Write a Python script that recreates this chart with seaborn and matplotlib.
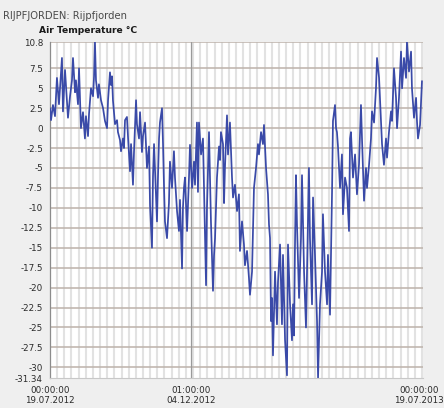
import matplotlib
matplotlib.use("Agg")
import matplotlib.pyplot as plt
import matplotlib.transforms as mtransforms
import numpy as np
import pandas as pd
import seaborn as sns

# ---- data ----
start_time = "2012-07-19 00:00:00"
end_time = "2013-07-19 00:00:00"
day_offsets = [
    0, 1.0, 2.9, 4.9, 6.8, 8.8, 10.8, 11.7, 12.7, 14.7, 16.6, 17.6, 19.6, 21.5, 22.5,
    24.5, 25.4, 27.4, 28.4, 29.4, 30.3, 32.3, 34.2, 35.2, 37.2, 38.2, 40.1, 42.1, 43.1,
    44.0, 45.0, 47.0, 47.9, 49.9, 51.9, 53.8, 55.8, 56.8, 58.7, 59.7, 60.7, 61.6, 63.6,
    65.6, 66.5, 68.5, 69.5, 71.4,
    72.4, 73.4, 75.3, 76.3, 78.3, 79.3, 81.2, 82.2, 84.2, 85.1, 87.1, 88.1, 90.0, 91.0,
    93.0, 94.9, 96.9, 97.9, 99.8, 100.8, 101.8, 102.7, 104.7, 105.7, 106.7, 107.6, 109.6,
    110.6, 111.6, 112.5, 114.5, 116.4, 117.4, 119.4, 121.3, 122.3, 124.3, 126.2, 127.2,
    129.2, 130.1, 131.1, 132.1, 134.1, 136.0, 137.0, 139.0, 140.9, 141.9,
    143.8, 144.8, 145.8, 147.8, 149.7, 150.7, 152.7, 153.6, 154.6, 155.6, 157.5, 159.5,
    160.5, 161.5, 163.4, 165.4, 166.4, 167.3, 169.3, 170.3, 171.2, 173.2, 174.2, 176.1,
    178.1, 179.1, 181.0, 183.0, 184.9, 185.9, 187.9, 189.8, 190.8, 192.8, 194.7, 195.7,
    197.7, 199.6, 201.6, 203.5, 204.5, 206.5, 208.4, 209.4, 211.4, 213.3, 214.3,
    215.3, 216.3, 217.2, 218.2, 220.2, 222.1, 223.1, 225.1, 227.0, 228.0, 230.0, 231.9,
    232.9, 234.9, 236.8, 237.8, 238.8, 239.7, 240.7, 241.7, 243.7, 245.6, 246.6, 248.6,
    250.5, 251.5, 253.4, 254.4, 256.4, 257.4, 259.3, 261.3, 262.3, 264.2, 266.2, 267.1,
    269.1, 271.1, 272.0, 274.0, 276.0, 276.9, 278.9, 279.9, 280.8, 281.8, 283.8, 285.7,
    286.7, 288.7,
    290.6, 292.6, 293.6, 294.5, 296.5, 298.5, 300.4, 302.4, 304.3, 305.3, 307.3, 309.2,
    310.2, 312.2, 314.1, 315.1, 317.1, 319.0, 320.0, 322.0, 323.9, 324.9, 326.8, 328.8,
    329.8, 331.7, 333.7, 334.7, 336.6, 338.6, 339.6, 341.5, 343.5, 344.5, 346.4, 348.4,
    349.3, 351.3, 353.3, 354.2, 356.2, 358.2, 359.1, 360.1, 362.1, 363.0, 364.0,
]
air_temperature = [
    2.5, 1.0, 2.9, 1.5, 6.3, 3.0, 7.0, 8.8, 2.1, 7.3, 3.5, 1.3, 4.0, 6.0, 8.8,
    4.5, 6.0, 3.0, 7.5, 3.5, 0.0, 2.0, -1.3, 1.5, -1.0, 1.8, 5.0, 4.0, 6.5,
    10.8, 6.0, 3.8, 5.5, 3.5, 2.5, 0.9, 0.0, 3.5, 7.0, 5.4, 6.5, 3.5, 0.5,
    1.0, -0.5, -1.5, -2.9, -1.3,
    -2.5, 1.0, 1.4, -1.0, -5.4, -2.0, -7.1, -3.0, 3.5, 0.5, -1.3, 2.0, -3.0, -1.0,
    0.7, -5.0, -2.3, -9.7, -15.0, -6.0, -2.0, -5.0, -11.7, -6.0, -1.3, 0.7, 2.5,
    -2.0, -7.5, -11.7, -13.8, -9.4, -4.2, -7.5, -2.9, -6.2, -10.4, -12.9, -9.0,
    -17.6, -10.0, -7.5, -6.2, -12.9, -6.2, -2.1, -7.5, -4.2, -7.1,
    0.7, -8.0, 0.7, -3.3, -1.3, -7.5, -19.7, -10.0, -5.0, -0.5, -11.7, -20.4,
    -16.0, -13.8, -6.2, -2.3, -4.0, -0.5, -2.0, -9.4, -5.0, 1.6, -3.3, 0.7,
    -6.2, -8.7, -7.1, -10.4, -8.3, -15.4, -11.7, -14.6, -17.2, -15.4, -18.8, -20.9,
    -18.0, -7.5, -5.0, -2.0, -3.3, -0.5, -2.0, 0.4, -5.0, -8.3, -12.1,
    -13.8, -24.2, -21.3, -28.5, -18.0, -24.6, -19.3, -14.6, -24.6, -15.9, -26.6, -31.0,
    -14.6, -22.1, -26.6, -22.1, -26.0, -15.0, -5.9, -12.1, -21.3, -13.8, -5.9, -18.0,
    -25.0, -18.0, -5.0, -13.8, -22.1, -8.7, -15.9, -24.2, -31.3, -22.1, -18.0, -10.8,
    -18.0, -22.1, -15.9, -23.4, -7.9, 0.9, 2.9, 0.0, -0.5, -2.3, -7.5, -3.3,
    -10.8, -6.2,
    -7.5, -12.9, -1.3, -0.5, -6.2, -3.3, -8.3, -4.5, 2.9, -1.3, -9.1, -5.0,
    -7.5, -4.6, -1.3, 2.1, 0.7, 5.0, 8.8, 6.3, 0.7, -2.0, -4.6, -1.3,
    -3.7, -0.5, 2.1, 0.9, 7.5, 3.8, 0.0, 3.8, 9.6, 5.0, 8.8, 6.3,
    10.8, 7.1, 9.6, 5.0, 1.3, 3.8, 0.9, -1.3, 0.4, 2.9, 5.9,
]
y_ticks = [10.8, 7.5, 5, 2.5, 0, -2.5, -5, -7.5, -10, -12.5, -15, -17.5, -20,
           -22.5, -25, -27.5, -30, -31.34]
y_tick_labels = ["10.8", "7.5", "5", "2.5", "0", "-2.5", "-5", "-7.5", "-10", "-12.5",
                 "-15", "-17.5", "-20", "-22.5", "-25", "-27.5", "-30", "-31.34"]
x_tick_times = ["2012-07-19 00:00:00", "2012-12-04 01:00:00", "2013-07-19 00:00:00"]
x_tick_labels = ["00:00:00\n19.07.2012", "01:00:00\n04.12.2012", "00:00:00\n19.07.2013"]
station_title = "RIJPFJORDEN: Rijpfjorden"
series_title = "Air Temperature °C"

df = pd.DataFrame({
    "time": pd.Timestamp(start_time) + pd.to_timedelta(day_offsets, unit="D"),
    "temp": air_temperature,
})

sns.set_style("white")
plt.rcParams["font.family"] = ["DejaVu Sans"]

fig = plt.figure(figsize=(4.44, 4.08), dpi=100, facecolor="#efefef")
ax = fig.add_axes([0.1126, 0.0735, 0.8401, 0.8235])
ax.set_facecolor("white")

t0 = pd.Timestamp(start_time)
t1 = pd.Timestamp(end_time)

# weekly vertical grid
for wk in pd.date_range(t0, t1, freq="7D")[1:]:
    ax.axvline(wk, color="#e2e2e2", lw=1.5, zorder=0)
# horizontal grid at ticks
for yv in y_ticks[:-1]:
    ax.axhline(yv, color="#bdb2aa", lw=1.1, zorder=1)
ax.axvline(pd.Timestamp(x_tick_times[1]), color="#9a9a9a", lw=0.9, zorder=1)

sns.lineplot(data=df, x="time", y="temp", ax=ax, color="#3a4aa8", lw=1.25,
             estimator=None, sort=False, zorder=3)

ax.set_xlim(t0, t1)
ax.set_ylim(-31.34, 10.8)
ax.set_yticks(y_ticks)
ax.set_yticklabels(y_tick_labels)
ax.set_xticks([pd.Timestamp(t) for t in x_tick_times])
ax.set_xticklabels(x_tick_labels, linespacing=1.1)
ax.set_xlabel("")
ax.set_ylabel("")
ax.tick_params(axis="both", labelsize=6.3, colors="#333333", length=3, width=0.7,
               direction="out", pad=2)
ax.tick_params(axis="x", colors="#333333", pad=3)
for lab in ax.get_xticklabels() + ax.get_yticklabels():
    lab.set_color("#2a2a2a")
# nudge last x label so it stays inside the figure
last = ax.get_xticklabels()[-1]
last.set_transform(last.get_transform() + mtransforms.ScaledTranslation(-4 / 100, 0, fig.dpi_scale_trans))

for side in ["top", "right"]:
    ax.spines[side].set_visible(False)
ax.spines["left"].set_color("#8c8c8c")
ax.spines["bottom"].set_color("#c8c8c8")
ax.spines["left"].set_linewidth(0.9)
ax.spines["bottom"].set_linewidth(0.8)

fig.text(0.007, 0.962, station_title, fontsize=7.2, color="#4a4a4a", ha="left", va="center")
fig.text(0.088, 0.925, series_title, fontsize=6.6, color="#1a1a1a", fontweight="bold",
         ha="left", va="center")

fig.savefig("out.png", dpi=100, facecolor=fig.get_facecolor())
